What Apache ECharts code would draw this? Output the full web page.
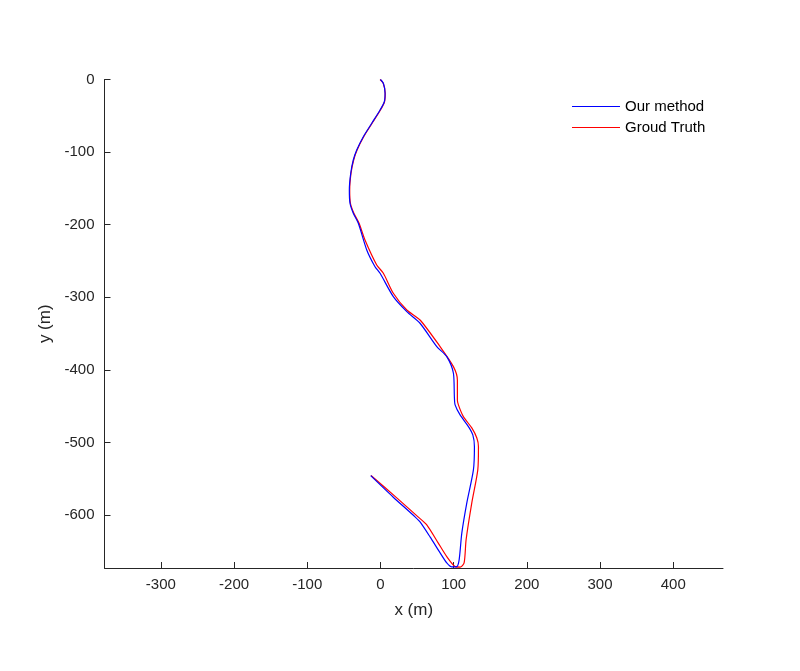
<!DOCTYPE html>
<html>
<head>
<meta charset="utf-8">
<script src="https://cdn.jsdelivr.net/npm/echarts@6/dist/echarts.min.js"></script>
<style>
  html, body { margin: 0; padding: 0; background: #fff; }
  #main { width: 800px; height: 671px; }
</style>
</head>
<body>
<div id="main"></div>
<script>
// trajectory, metres
var ourX = [0, 4.0, 6.3, 5.3, -0.5, -11.9, -23.4, -32.4, -37.1, -40.6, -42.5, -41.6, -37.1, -30.2, -18.7, -7.4, -0.5, 17.6, 36.0, 54.1, 77.0, 90.6, 99.7, 101.0, 102.0, 108.8, 120.2, 126.2, 128.4, 127.0, 118.0, 111.2, 107.5, 104.3, 97.5, 90.6, 81.5, 67.8, 54.1, 47.3, 17.2, -13.3];
var ourY = [0, -5.2, -19.0, -30.6, -42.0, -60.3, -78.8, -97.1, -110.9, -129.2, -152.2, -170.5, -184.3, -198.1, -234.8, -257.9, -267.0, -299.2, -319.8, -335.8, -368.0, -381.8, -404.7, -437.0, -448.3, -462.1, -478.2, -489.7, -505.8, -537.9, -583.3, -624.7, -661.8, -671.1, -671.5, -666.0, -652.2, -630.2, -609.5, -602.6, -575.1, -545.7];

var gtX = [-0.5, 3.8, 6.5, 5.6, 0.0, -11.4, -22.9, -31.9, -36.6, -40.2, -42.0, -41.0, -36.3, -29.2, -21.1, -5.1, 4.0, 17.6, 36.0, 54.1, 81.5, 99.7, 105.1, 105.1, 106.5, 113.3, 124.8, 131.7, 133.9, 133.0, 124.8, 117.0, 114.3, 108.8, 102.0, 90.6, 78.8, 63.3, 51.4, 22.3, -12.9];
var gtY = [0, -5.2, -19.0, -30.6, -42.0, -60.3, -78.8, -97.1, -110.9, -129.2, -152.2, -170.5, -184.3, -198.1, -221.1, -255.5, -266.9, -294.5, -317.5, -331.3, -368.0, -395.6, -413.9, -441.5, -448.3, -464.5, -480.0, -493.8, -505.8, -537.9, -583.3, -634.3, -666.0, -671.9, -671.1, -657.3, -638.4, -613.6, -602.6, -576.4, -545.5];

var xTicks = [-300, -200, -100, 0, 100, 200, 300, 400];
var yTicks = [-600, -500, -400, -300, -200, -100, 0];

function pairs(xs, ys) {
  var out = [];
  for (var i = 0; i < xs.length; i++) {
    out.push([xs[i], ys[i]]);
  }
  return out;
}

var myChart = echarts.init(document.getElementById("main"));

var axisColor = "#262626";
var font = "Liberation Sans, Arial, Helvetica, sans-serif";

myChart.setOption({
  animation: false,
  backgroundColor: "#fff",
  grid: {
    left: 104.5,
    top: 79.5,
    width: 618.5,
    height: 488.5
  },
  legend: {
    data: [
      { name: "Our method", icon: "rect", itemStyle: { color: "#0000ff" } },
      { name: "Groud Truth", icon: "rect", itemStyle: { color: "#ff0000" } }
    ],
    orient: "vertical",
    left: 572,
    top: 99,
    padding: 0,
    itemWidth: 48,
    itemHeight: 1,
    itemGap: 6,
    textStyle: { color: "#000", fontSize: 15, fontFamily: font }
  },
  xAxis: {
    type: "value",
    min: -377,
    max: 468,
    name: "x (m)",
    nameLocation: "middle",
    nameGap: 34,
    nameTextStyle: { color: axisColor, fontSize: 17, fontFamily: font },
    axisLine: { onZero: false, lineStyle: { color: axisColor, width: 1 } },
    axisTick: { inside: true, length: 6, customValues: xTicks, lineStyle: { color: axisColor } },
    axisLabel: { customValues: xTicks, color: axisColor, fontSize: 15, fontFamily: font, margin: 9 },
    splitLine: { show: false }
  },
  yAxis: {
    type: "value",
    min: -673,
    max: 0,
    name: "y (m)",
    nameLocation: "middle",
    nameGap: 45,
    nameTextStyle: { color: axisColor, fontSize: 17, fontFamily: font },
    axisLine: { show: true, onZero: false, lineStyle: { color: axisColor, width: 1 } },
    axisTick: { show: true, inside: true, length: 6, customValues: yTicks, lineStyle: { color: axisColor } },
    axisLabel: { customValues: yTicks, color: axisColor, fontSize: 15, fontFamily: font, margin: 10 },
    splitLine: { show: false }
  },
  series: [
    {
      name: "Our method",
      type: "line",
      z: 3,
      symbol: "none",
      smooth: 0.25,
      lineStyle: { color: "#0000ff", width: 1.2 },
      itemStyle: { color: "#0000ff" },
      data: pairs(ourX, ourY)
    },
    {
      name: "Groud Truth",
      type: "line",
      z: 2,
      symbol: "none",
      smooth: 0.25,
      lineStyle: { color: "#ff0000", width: 1.2 },
      itemStyle: { color: "#ff0000" },
      data: pairs(gtX, gtY)
    }
  ]
});
</script>
</body>
</html>
